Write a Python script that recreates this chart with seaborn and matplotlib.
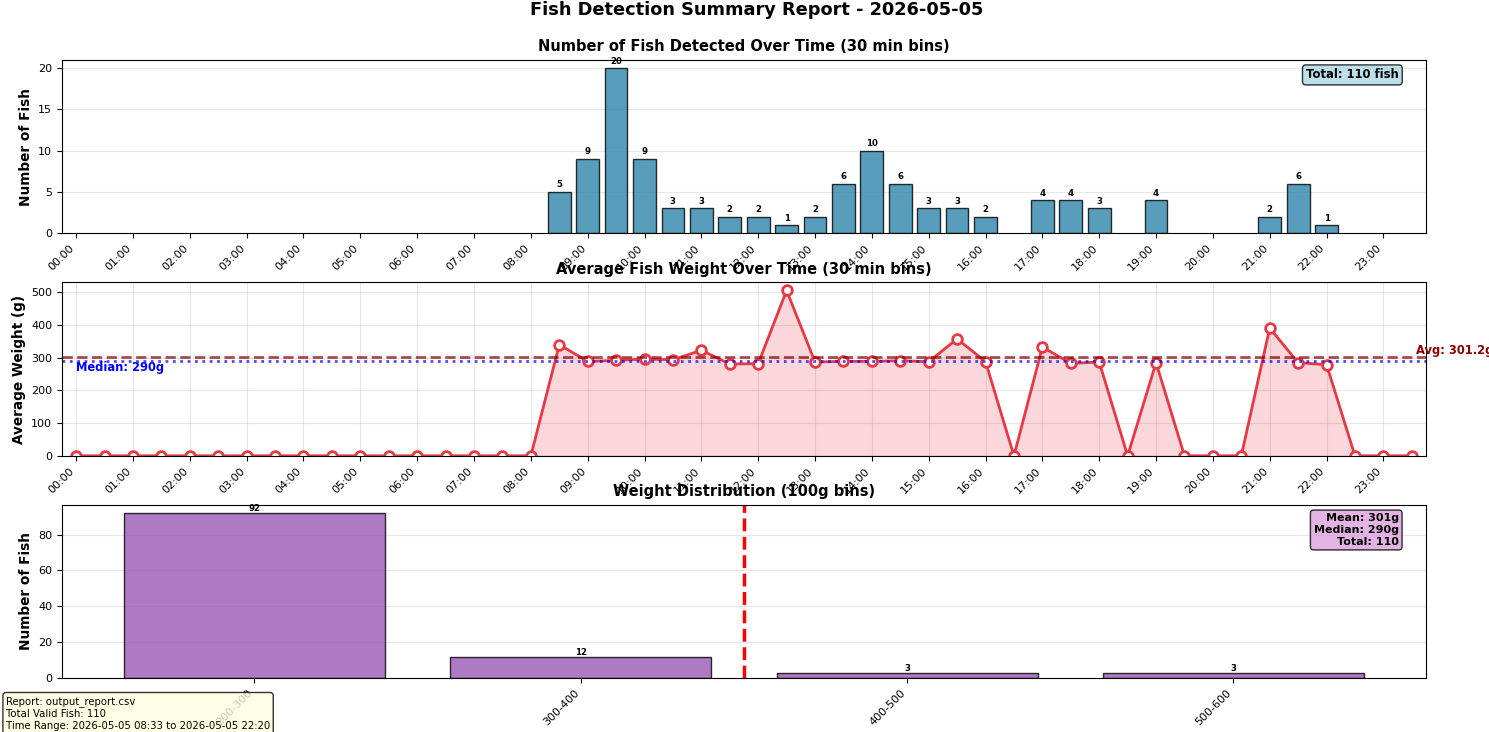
import numpy as np
import pandas as pd
import matplotlib
matplotlib.use("Agg")
import matplotlib.pyplot as plt
import seaborn as sns

# ---------------- data ----------------
report_date = "2026-05-05"

# detection counts per 30-min bin (non-empty bins only)
count_times = ["08:30", "09:00", "09:30", "10:00", "10:30", "11:00", "11:30", "12:00",
               "12:30", "13:00", "13:30", "14:00", "14:30", "15:00", "15:30", "16:00",
               "17:00", "17:30", "18:00", "19:00", "21:00", "21:30", "22:00"]
count_values = [5, 9, 20, 9, 3, 3, 2, 2,
                1, 2, 6, 10, 6, 3, 3, 2,
                4, 4, 3, 4, 2, 6, 1]

# average weight per 30-min bin (whole day)
weight_times = ["00:00", "00:30", "01:00", "01:30", "02:00", "02:30", "03:00", "03:30",
                "04:00", "04:30", "05:00", "05:30", "06:00", "06:30", "07:00", "07:30",
                "08:00", "08:30", "09:00", "09:30", "10:00", "10:30", "11:00", "11:30",
                "12:00", "12:30", "13:00", "13:30", "14:00", "14:30", "15:00", "15:30",
                "16:00", "16:30", "17:00", "17:30", "18:00", "18:30", "19:00", "19:30",
                "20:00", "20:30", "21:00", "21:30", "22:00", "22:30", "23:00", "23:30"]
weight_values = [0, 0, 0, 0, 0, 0, 0, 0,
                 0, 0, 0, 0, 0, 0, 0, 0,
                 0, 340, 289, 292, 296, 294, 323, 281,
                 282, 506, 287, 289, 289, 291, 288, 358,
                 288, 0, 333, 283, 287, 0, 285, 0,
                 0, 0, 391, 285, 279, 0, 0, 0]

# weight distribution
weight_bins = ["200-300", "300-400", "400-500", "500-600"]
weight_bin_lows = [200, 300, 400, 500]
weight_bin_counts = [92, 12, 3, 3]

mean_weight = 301.2
median_weight = 290
total_fish = 110
report_file = "output_report.csv"
time_range = "2026-05-05 08:33 to 2026-05-05 22:20"

hour_labels = ["00:00", "01:00", "02:00", "03:00", "04:00", "05:00", "06:00", "07:00",
               "08:00", "09:00", "10:00", "11:00", "12:00", "13:00", "14:00", "15:00",
               "16:00", "17:00", "18:00", "19:00", "20:00", "21:00", "22:00", "23:00"]


def to_hours(t):
    h, m = t.split(":")
    return int(h) + int(m) / 60.0


# ---------------- figure ----------------
plt.rcParams['font.family'] = ['DejaVu Sans']
fig, axes = plt.subplots(3, 1, figsize=(14.89, 7.32), dpi=100)
fig.subplots_adjust(left=0.0416, right=0.9577, top=0.9184, bottom=0.0734, hspace=0.282)

TICK_FS = 8
TITLE_FS = 10.5
fig.suptitle(f"Fish Detection Summary Report - {report_date}", fontsize=12.8,
             fontweight='bold', x=0.508, y=0.998, va='top')

# ---- panel 1: counts over time ----
ax1 = axes[0]
df_counts = pd.DataFrame({"hour": [to_hours(t) for t in count_times], "count": count_values})
sns.barplot(data=df_counts, x="hour", y="count", native_scale=True, color="#2E86AB",
            saturation=1, alpha=0.8, edgecolor="black", linewidth=1, errorbar=None, ax=ax1)
for x, h in zip(df_counts["hour"], df_counts["count"]):
    ax1.text(x, h + 0.3, str(h), ha='center', va='bottom', fontsize=6.2, fontweight='bold')
ax1.set_xlim(-0.25, 23.75)
ax1.set_xticks(range(24))
ax1.set_xticklabels(hour_labels, rotation=45, ha='right', fontsize=TICK_FS)
ax1.tick_params(axis='y', labelsize=TICK_FS)
ax1.set_xlabel("")
ax1.set_ylabel("Number of Fish", fontsize=9.8, fontweight='bold')
ax1.set_title("Number of Fish Detected Over Time (30 min bins)", fontsize=TITLE_FS, fontweight='bold')
ax1.grid(axis='y', alpha=0.3)
ax1.set_axisbelow(True)
ax1.text(0.98, 0.95, f"Total: {total_fish} fish", transform=ax1.transAxes, ha='right', va='top',
         fontsize=8.4, fontweight='bold',
         bbox=dict(boxstyle='round', facecolor='lightblue', alpha=0.8))

# ---- panel 2: average weight over time ----
ax2 = axes[1]
df_w = pd.DataFrame({"hour": [to_hours(t) for t in weight_times], "weight": weight_values})
sns.lineplot(data=df_w, x="hour", y="weight", color="#E63946", linewidth=2, marker='o',
             markersize=7, markerfacecolor='white', markeredgecolor="#E63946",
             markeredgewidth=2, ax=ax2)
ax2.fill_between(df_w["hour"], df_w["weight"], alpha=0.2, color="#E63946")
ax2.axhline(mean_weight, color='darkred', linestyle='--', linewidth=2, alpha=0.7)
ax2.axhline(median_weight, color='blue', linestyle=':', linewidth=2, alpha=0.7)
ax2.text(23.58, mean_weight, f"Avg: {mean_weight:.1f}g", color='darkred', fontsize=8.3,
         fontweight='bold', ha='left', va='bottom')
ax2.text(0, median_weight, f"Median: {median_weight}g", color='blue', fontsize=8.3,
         fontweight='bold', ha='left', va='top')
ax2.set_xlim(-0.25, 23.75)
ax2.set_ylim(0, max(weight_values) * 1.05)
ax2.set_xticks(range(24))
ax2.set_xticklabels(hour_labels, rotation=45, ha='right', fontsize=TICK_FS)
ax2.tick_params(axis='y', labelsize=TICK_FS)
ax2.set_xlabel("")
ax2.set_ylabel("Average Weight (g)", fontsize=9.8, fontweight='bold')
ax2.set_title("Average Fish Weight Over Time (30 min bins)", fontsize=TITLE_FS, fontweight='bold')
ax2.grid(True, alpha=0.3)
ax2.set_axisbelow(True)

# ---- panel 3: weight distribution ----
ax3 = axes[2]
df_d = pd.DataFrame({"bin": weight_bins, "count": weight_bin_counts})
sns.barplot(data=df_d, x="bin", y="count", color="#9B59B6", saturation=1, alpha=0.8,
            edgecolor="black", linewidth=1, errorbar=None, ax=ax3)
for i, h in enumerate(weight_bin_counts):
    ax3.text(i, h, str(h), ha='center', va='bottom', fontsize=6.2, fontweight='bold')
mean_idx = int(np.searchsorted(weight_bin_lows, mean_weight, side='right')) - 1
ax3.axvline(mean_idx + 0.5, color='red', linestyle='--', linewidth=2.5)
lo, hi = -0.4, len(weight_bins) - 1 + 0.4
pad = 0.05 * (hi - lo)
ax3.set_xlim(lo - pad, hi + pad)
ax3.set_xticks(range(len(weight_bins)))
ax3.set_xticklabels(weight_bins, rotation=45, ha='right', fontsize=TICK_FS)
ax3.tick_params(axis='y', labelsize=TICK_FS)
ax3.set_xlabel("Weight Range (g)", fontsize=9.8, fontweight='bold')
ax3.set_ylabel("Number of Fish", fontsize=9.8, fontweight='bold')
ax3.set_title("Weight Distribution (100g bins)", fontsize=TITLE_FS, fontweight='bold')
ax3.grid(axis='y', alpha=0.3)
ax3.set_axisbelow(True)
ax3.text(0.98, 0.95, f"Mean: {mean_weight:.0f}g\nMedian: {median_weight}g\nTotal: {total_fish}",
         transform=ax3.transAxes, ha='right', va='top', fontsize=8.0, fontweight='bold',
         bbox=dict(boxstyle='round', facecolor='plum', alpha=0.8))

# ---- info box ----
info = (f"Report: {report_file}\nTotal Valid Fish: {total_fish}\nTime Range: {time_range}\n"
        f"Median Weight: {median_weight}g\nMean Weight: {mean_weight:.1f}g")
fig.text(0.004, 0.0486, info, fontsize=7.3, ha='left', va='top',
         bbox=dict(boxstyle='round', facecolor='lightyellow', alpha=0.8))

fig.savefig("out.png", dpi=100)
